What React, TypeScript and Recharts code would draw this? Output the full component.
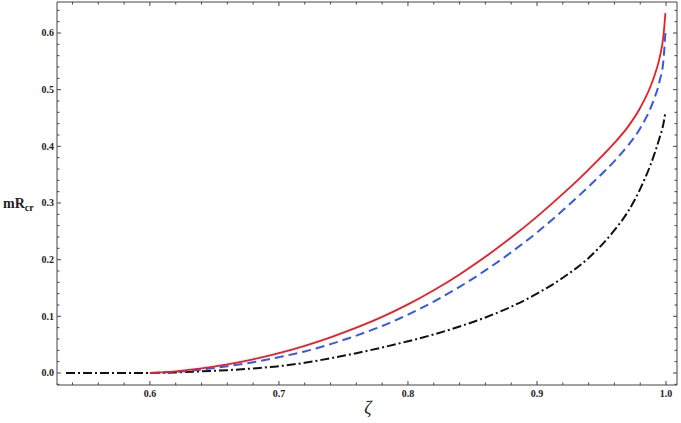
import { LineChart, Line, XAxis, YAxis } from 'recharts'

const SERIF = "'Liberation Serif', 'DejaVu Serif', 'Times New Roman', serif"
const FRAME = '#444'

// ζ samples and the three curves (null = not drawn)
const zeta = [0.535, 0.56, 0.58, 0.6, 0.62, 0.64, 0.66, 0.68, 0.7, 0.72, 0.74, 0.76, 0.78, 0.8, 0.82, 0.84, 0.86, 0.88, 0.9, 0.92, 0.94, 0.96, 0.97, 0.98, 0.99, 0.995, 0.998, 0.9995]
const redCurve = [null, null, null, 0, 0.003, 0.008, 0.015, 0.024, 0.035, 0.048, 0.063, 0.08, 0.099, 0.121, 0.146, 0.174, 0.205, 0.239, 0.276, 0.316, 0.359, 0.406, 0.433, 0.468, 0.518, 0.556, 0.595, 0.635]
const blueCurve = [null, null, null, 0, 0.002, 0.006, 0.012, 0.019, 0.028, 0.038, 0.051, 0.066, 0.083, 0.103, 0.126, 0.152, 0.181, 0.213, 0.248, 0.287, 0.329, 0.374, 0.4, 0.432, 0.479, 0.515, 0.552, 0.6]
const blackCurve = [0, 0, 0, 0, 0.001, 0.003, 0.005, 0.008, 0.012, 0.018, 0.026, 0.035, 0.045, 0.056, 0.068, 0.082, 0.098, 0.117, 0.14, 0.168, 0.203, 0.252, 0.283, 0.325, 0.38, 0.415, 0.44, 0.46]

const xTicks = [0.54, 0.56, 0.58, 0.6, 0.62, 0.64, 0.66, 0.68, 0.7, 0.72, 0.74, 0.76, 0.78, 0.8, 0.82, 0.84, 0.86, 0.88, 0.9, 0.92, 0.94, 0.96, 0.98, 1.0]
const yTicks = [-0.02, 0, 0.02, 0.04, 0.06, 0.08, 0.1, 0.12, 0.14, 0.16, 0.18, 0.2, 0.22, 0.24, 0.26, 0.28, 0.3, 0.32, 0.34, 0.36, 0.38, 0.4, 0.42, 0.44, 0.46, 0.48, 0.5, 0.52, 0.54, 0.56, 0.58, 0.6, 0.62, 0.64]

const X_DOMAIN: [number, number] = [0.528, 1.0085]
const Y_DOMAIN: [number, number] = [-0.0212, 0.6547]

const data = zeta.map((z, i) => ({
  z,
  red: redCurve[i],
  blue: blueCurve[i],
  black: blackCurve[i],
}))

const isMajor = (v: number) => Math.abs(v * 10 - Math.round(v * 10)) < 1e-6

function BottomTick(props: any) {
  const { x, y, payload } = props
  const major = isMajor(payload.value)
  return (
    <g>
      <line x1={x} y1={y} x2={x} y2={y - (major ? 4 : 2.5)} stroke={FRAME} />
      {major && (
        <text x={x} y={y + 12} textAnchor="middle" fontFamily={SERIF} fontWeight="bold" fontSize={10} fill="#222">
          {payload.value.toFixed(1)}
        </text>
      )}
    </g>
  )
}

function TopTick(props: any) {
  const { x, y, payload } = props
  const major = isMajor(payload.value)
  return <line x1={x} y1={y} x2={x} y2={y + (major ? 4 : 2.5)} stroke={FRAME} />
}

function LeftTick(props: any) {
  const { x, y, payload } = props
  const major = isMajor(payload.value)
  return (
    <g>
      <line x1={x} y1={y} x2={x + (major ? 4 : 2.5)} y2={y} stroke={FRAME} />
      {major && payload.value >= 0 && (
        <text x={x - 3} y={y + 3.5} textAnchor="end" fontFamily={SERIF} fontWeight="bold" fontSize={10} fill="#222">
          {payload.value.toFixed(1)}
        </text>
      )}
    </g>
  )
}

function RightTick(props: any) {
  const { x, y, payload } = props
  const major = isMajor(payload.value)
  return <line x1={x} y1={y} x2={x - (major ? 4 : 2.5)} y2={y} stroke={FRAME} />
}

export default function App() {
  return (
    <div style={{ position: 'absolute', left: 0, top: 0, width: 681, height: 423, background: '#fff' }}>
      <LineChart width={681} height={423} data={data} margin={{ top: 0, right: 0, bottom: 0, left: 0 }}>
        <XAxis
          dataKey="z"
          type="number"
          domain={X_DOMAIN}
          allowDataOverflow
          ticks={xTicks}
          interval={0}
          height={38}
          tickSize={0}
          tickMargin={0}
          tickLine={false}
          axisLine={{ stroke: FRAME }}
          tick={<BottomTick />}
        />
        <XAxis
          xAxisId="top"
          dataKey="z"
          orientation="top"
          type="number"
          domain={X_DOMAIN}
          allowDataOverflow
          ticks={xTicks}
          interval={0}
          height={2}
          tickSize={0}
          tickMargin={0}
          tickLine={false}
          axisLine={{ stroke: FRAME }}
          tick={<TopTick />}
        />
        <YAxis
          type="number"
          domain={Y_DOMAIN}
          allowDataOverflow
          ticks={yTicks}
          interval={0}
          width={57}
          tickSize={0}
          tickMargin={0}
          tickLine={false}
          axisLine={{ stroke: FRAME }}
          tick={<LeftTick />}
        />
        <YAxis
          yAxisId="right"
          orientation="right"
          type="number"
          domain={Y_DOMAIN}
          allowDataOverflow
          ticks={yTicks}
          interval={0}
          width={4}
          tickSize={0}
          tickMargin={0}
          tickLine={false}
          axisLine={{ stroke: FRAME }}
          tick={<RightTick />}
        />
        <Line xAxisId="top" yAxisId="right" dataKey="black" stroke="none" dot={false} legendType="none" isAnimationActive={false} />
        <Line dataKey="black" type="monotone" stroke="#111" strokeWidth={2} strokeDasharray="9 3 2 3" dot={false} isAnimationActive={false} />
        <Line dataKey="blue" type="monotone" stroke="#3557ee" strokeWidth={2} strokeDasharray="9 5" dot={false} isAnimationActive={false} />
        <Line dataKey="red" type="monotone" stroke="#ee1c24" strokeWidth={1.8} dot={false} isAnimationActive={false} />
        <text x={368} y={414} textAnchor="middle" fontFamily={SERIF} fontStyle="italic" fontSize={18} fill="#222">
          ζ
        </text>
        <text x={3} y={208} fontFamily={SERIF} fontWeight="bold" fontSize={14} fill="#222">
          mR<tspan fontSize={10} dy={3}>cr</tspan>
        </text>
      </LineChart>
    </div>
  )
}
